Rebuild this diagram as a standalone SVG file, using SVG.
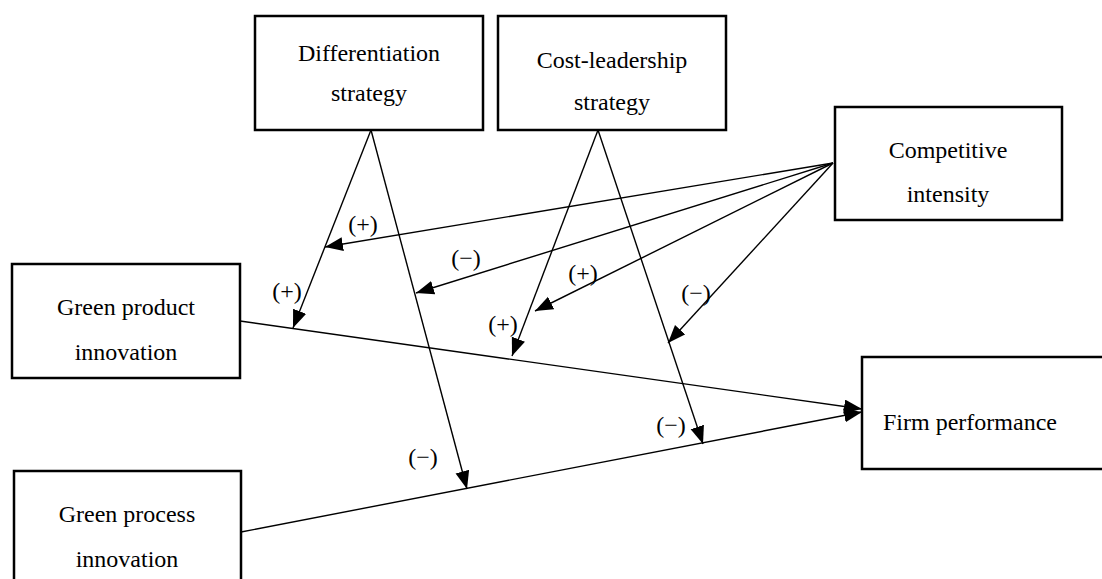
<svg xmlns="http://www.w3.org/2000/svg" width="1102" height="579" viewBox="0 0 1102 579">
  <style>
    .box { fill: #fff; stroke: #000; stroke-width: 2.5; }
    .t { font-family: "Liberation Serif", "Times New Roman", serif; font-size: 24px; fill: #000; }
    .c { text-anchor: middle; }
    .lbl { font-family: "Liberation Serif", "Times New Roman", serif; font-size: 24px; fill: #000; text-anchor: middle; }
    .arr { stroke: #000; stroke-width: 1.4; fill: none; marker-end: url(#head); }
  </style>
  <defs>
    <marker id="head" markerUnits="userSpaceOnUse" markerWidth="19" markerHeight="15" refX="18" refY="7" orient="auto">
      <path d="M0,0 L18,7 L0,14 Z" fill="#000"/>
    </marker>
  </defs>
  <rect width="1102" height="579" fill="#fff"/>

  <!-- connectors -->
  <g id="connectors">
    <!-- main effects -->
    <line class="arr" x1="240" y1="321" x2="862" y2="409"/>
    <line class="arr" x1="241" y1="532" x2="862" y2="412"/>
    <!-- differentiation strategy moderations -->
    <line class="arr" x1="371" y1="130" x2="293" y2="328"/>
    <line class="arr" x1="371" y1="130" x2="467" y2="489"/>
    <!-- cost-leadership strategy moderations -->
    <line class="arr" x1="598" y1="130" x2="512" y2="356"/>
    <line class="arr" x1="598" y1="130" x2="703" y2="444"/>
    <!-- competitive intensity moderations -->
    <line class="arr" x1="833" y1="163" x2="325" y2="247"/>
    <line class="arr" x1="833" y1="163" x2="416" y2="293"/>
    <line class="arr" x1="833" y1="163" x2="535" y2="311"/>
    <line class="arr" x1="833" y1="163" x2="668" y2="343"/>
  </g>

  <!-- sign labels -->
  <g id="labels">
    <text class="lbl" x="363" y="232">(+)</text>
    <text class="lbl" x="466" y="266">(−)</text>
    <text class="lbl" x="287" y="299">(+)</text>
    <text class="lbl" x="583" y="281">(+)</text>
    <text class="lbl" x="503" y="332">(+)</text>
    <text class="lbl" x="696" y="301">(−)</text>
    <text class="lbl" x="671" y="433">(−)</text>
    <text class="lbl" x="423" y="465">(−)</text>
  </g>

  <!-- nodes -->
  <g id="differentiation">
    <rect class="box" x="255" y="16" width="228" height="114"/>
    <text class="t c" x="369" y="61">Differentiation</text>
    <text class="t c" x="369" y="101">strategy</text>
  </g>
  <g id="cost-leadership">
    <rect class="box" x="498" y="16" width="228" height="114"/>
    <text class="t c" x="612" y="68">Cost-leadership</text>
    <text class="t c" x="612" y="110">strategy</text>
  </g>
  <g id="competitive-intensity">
    <rect class="box" x="835" y="107" width="227" height="113"/>
    <text class="t c" x="948" y="158">Competitive</text>
    <text class="t c" x="948" y="202">intensity</text>
  </g>
  <g id="green-product">
    <rect class="box" x="12" y="264" width="228" height="114"/>
    <text class="t c" x="126" y="315">Green product</text>
    <text class="t c" x="126" y="360">innovation</text>
  </g>
  <g id="green-process">
    <rect class="box" x="14" y="471" width="227" height="114"/>
    <text class="t c" x="127" y="522">Green process</text>
    <text class="t c" x="127" y="567">innovation</text>
  </g>
  <g id="firm-performance">
    <rect class="box" x="862" y="357" width="250" height="112"/>
    <text class="t" x="883" y="430">Firm performance</text>
  </g>
</svg>
